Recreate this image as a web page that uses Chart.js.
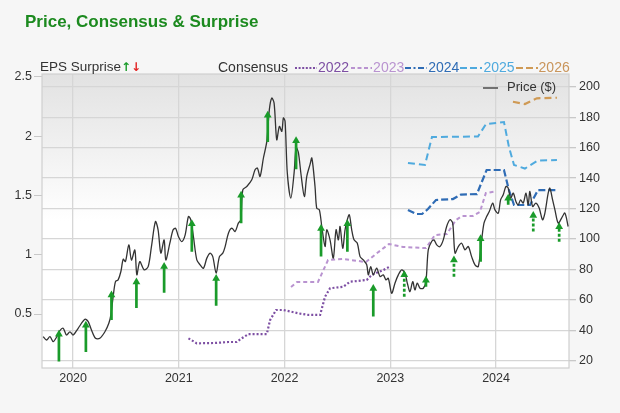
<!DOCTYPE html>
<html>
<head>
<meta charset="utf-8">
<script src="https://cdn.jsdelivr.net/npm/chart.js@4"></script>
<style>
  html, body { margin:0; padding:0; background:#f6f6f6; }
  #wrap { position:relative; width:620px; height:413px; overflow:hidden; font-family:"Liberation Sans", Arial, sans-serif; }
  #c { position:absolute; left:0; top:0; }
  .ov { position:absolute; white-space:nowrap; font-size:13px; color:#333; line-height:14px; }
  #title { left:25px; top:12px; font-size:17px; font-weight:bold; color:#1c8a1f; line-height:20px; }
  .lg { display:inline-block; vertical-align:middle; }
</style>
</head>
<body>
<div id="wrap">
  <canvas id="c" width="620" height="413"></canvas>
  <div id="title" class="ov">Price, Consensus &amp; Surprise</div>
  <div class="ov" style="left:40px; top:60px; font-size:13.5px;">EPS Surprise<span style="color:#1a9b2a;font-weight:bold;font-family:'DejaVu Sans';font-size:12px;">↑</span><span style="color:#e32323;font-weight:bold;font-family:'DejaVu Sans';font-size:12px;">↓</span></div>
  <div class="ov" style="left:218px; top:60px; font-size:14px;">Consensus
    <svg class="lg" width="24" height="6" style="margin-left:2px"><line x1="1" y1="3" x2="23" y2="3" stroke="#7d4fa3" stroke-width="2" stroke-dasharray="2,1.6"/></svg><span style="color:#7d4fa3">2022</span><svg class="lg" width="24" height="6"><line x1="2" y1="3" x2="23" y2="3" stroke="#b993d0" stroke-width="2" stroke-dasharray="4,2.5"/></svg><span style="color:#b993d0">2023</span><svg class="lg" width="24" height="6"><line x1="1" y1="3" x2="23" y2="3" stroke="#2f6cb5" stroke-width="2.2" stroke-dasharray="6,2.5,2,2.5"/></svg><span style="color:#2f6cb5">2024</span><svg class="lg" width="24" height="6"><line x1="1" y1="3" x2="23" y2="3" stroke="#4faade" stroke-width="2" stroke-dasharray="7,3"/></svg><span style="color:#4faade">2025</span><svg class="lg" width="24" height="6"><line x1="1" y1="3" x2="23" y2="3" stroke="#cf9a55" stroke-width="2.2" stroke-dasharray="7,3"/></svg><span style="color:#c9955b">2026</span>
  </div>
  <div class="ov" style="left:483px; top:80px; font-size:13px;"><svg class="lg" width="16" height="6"><line x1="0" y1="3" x2="15" y2="3" stroke="#555" stroke-width="1.6"/></svg><span style="margin-left:8px">Price ($)</span></div>
</div>
<script>
// ---------- DATA ----------
const xTickYears = [2020, 2021, 2022, 2023, 2024];
const epsTicks = [0.5, 1, 1.5, 2, 2.5];
const priceTicks = [20, 40, 60, 80, 100, 120, 140, 160, 180, 200];

const priceDates = [2019.717,2019.749,2019.781,2019.812,2019.843,2019.875,2019.906,2019.938,2019.970,2020.001,
 2020.048,2020.112,2020.143,2020.174,2020.212,2020.253,2020.301,2020.338,2020.357,2020.379,
 2020.401,2020.426,2020.452,2020.474,2020.495,2020.527,2020.552,2020.584,2020.603,2020.631,
 2020.672,2020.710,2020.741,2020.779,2020.804,2020.830,2020.861,2020.877,2020.915,2020.946,
 2020.970,2020.996,2021.028,2021.060,2021.091,2021.113,2021.138,2021.170,2021.201,2021.233,
 2021.265,2021.296,2021.321,2021.353,2021.384,2021.416,2021.438,2021.469,2021.501,2021.532,
 2021.563,2021.586,2021.605,2021.643,2021.690,2021.721,2021.743,2021.768,2021.800,2021.832,
 2021.856,2021.879,2021.901,2021.926,2021.951,2021.974,2021.989,2022.005,2022.026,2022.059,
 2022.090,2022.109,2022.130,2022.156,2022.187,2022.210,2022.241,2022.258,2022.288,2022.304,
 2022.329,2022.352,2022.383,2022.399,2022.430,2022.461,2022.487,2022.509,2022.525,2022.550,
 2022.572,2022.588,2022.612,2022.635,2022.657,2022.688,2022.714,2022.745,2022.777,2022.792,
 2022.815,2022.839,2022.871,2022.903,2022.934,2022.959,2022.981,2023.013,2023.044,2023.076,
 2023.108,2023.139,2023.161,2023.186,2023.212,2023.233,2023.255,2023.281,2023.312,2023.337,
 2023.359,2023.391,2023.413,2023.439,2023.470,2023.501,2023.533,2023.564,2023.590,2023.612,
 2023.643,2023.675,2023.706,2023.737,2023.769,2023.801,2023.832,2023.864,2023.886,2023.911,
 2023.936,2023.968,2023.990,2024.021,2024.043,2024.068,2024.094,2024.115,2024.138,2024.163,
 2024.188,2024.210,2024.232,2024.257,2024.283,2024.304,2024.320,2024.346,2024.377,2024.408,
 2024.440,2024.462,2024.493,2024.509,2024.535,2024.557,2024.588,2024.620,2024.651,2024.682];
const priceValues = [35.8,33.6,35.8,32.5,35.4,39.7,41.3,36.9,39.0,36.9,
 41.3,47.2,45.7,40.2,34.7,34.7,39.0,44.6,50.0,62.1,
 72.0,73.1,78.6,86.7,85.1,96.1,86.2,92.8,76.4,85.1,
 79.7,81.8,95.0,111.4,106.0,90.7,99.4,86.2,97.2,106.0,
 107.0,101.6,98.3,102.7,114.7,112.6,101.6,86.2,83.0,80.8,
 87.4,90.7,88.4,77.5,88.4,90.7,95.0,103.8,107.1,104.9,
 110.4,112.6,132.3,134.5,138.9,145.5,146.6,141.1,153.2,164.1,
 185.0,192.6,189.3,165.2,174.0,170.7,179.5,177.2,143.3,126.8,
 143.3,160.0,157.0,142.2,127.9,141.1,149.0,153.2,134.5,120.3,
 119.1,108.2,95.0,106.0,99.4,87.4,106.0,99.4,108.2,93.9,
 106.0,111.4,115.9,106.0,99.4,97.2,88.4,86.2,83.0,76.4,
 81.8,76.4,80.8,75.3,76.4,73.1,74.2,64.3,70.9,76.4,
 79.7,77.5,70.9,65.4,72.0,66.5,70.9,67.6,67.6,72.0,
 92.8,98.3,99.4,96.1,95.0,99.4,108.2,112.6,110.4,90.7,
 95.0,97.2,92.8,95.0,88.4,83.0,81.8,99.4,110.4,114.7,
 118.0,123.6,119.1,116.9,125.7,129.0,134.5,133.4,126.8,130.1,
 124.6,122.4,125.7,123.6,130.1,122.4,131.2,121.3,123.6,120.3,
 112.6,117.0,130.1,133.4,125.7,119.1,110.4,113.7,117.0,108.2];

const surpriseDates = [2019.866,2020.121,2020.363,2020.599,2020.861,2021.123,2021.353,2021.589,2021.841,2022.109,
 2022.345,2022.594,2022.839,2023.132,2023.337,2023.602,2023.854,2024.115,2024.352,2024.597];
const surpriseFrom = [0.10,0.18,0.45,0.55,0.68,1.025,0.57,1.265,1.95,1.72,
 0.985,1.025,0.48,0.645,0.73,0.815,0.94,1.42,1.195,1.11];
const surpriseTo = [0.33,0.405,0.66,0.77,0.90,1.26,0.80,1.50,2.175,1.96,
 1.22,1.26,0.715,0.83,0.785,0.955,1.135,1.475,1.33,1.235];
const surpriseEstimated = [false,false,false,false,false,false,false,false,false,false,
 false,false,false,true,false,true,false,false,true,true];

const cons2022Dates = [2021.091,2021.170,2021.343,2021.466,2021.548,2021.595,2021.658,2021.832,2021.863,2021.920,2021.989,2022.130,2022.225,2022.336,2022.383,2022.430,2022.556,2022.619,2022.777,2022.824,2022.934,2022.997];
const cons2022Values = [0.295,0.253,0.256,0.264,0.264,0.295,0.331,0.331,0.449,0.534,0.534,0.506,0.492,0.492,0.646,0.717,0.730,0.772,0.787,0.829,0.871,0.900];
const cons2023Dates = [2022.061,2022.118,2022.316,2022.411,2022.553,2022.770,2022.864,2022.987,2023.120,2023.337,2023.422,2023.535,2023.620,2023.677,2023.781,2023.847,2023.904,2023.989];
const cons2023Values = [0.728,0.770,0.770,0.955,0.964,0.938,1.006,1.090,1.065,1.056,1.166,1.174,1.292,1.326,1.326,1.360,1.520,1.532];
const cons2024Dates = [2023.167,2023.243,2023.300,2023.356,2023.432,2023.592,2023.668,2023.819,2023.911,2024.075,2024.122,2024.170,2024.321,2024.397,2024.576];
const cons2024Values = [1.377,1.343,1.343,1.385,1.461,1.469,1.507,1.511,1.714,1.714,1.545,1.419,1.419,1.545,1.545];
const cons2025Dates = [2023.167,2023.328,2023.394,2023.829,2023.905,2024.075,2024.122,2024.170,2024.273,2024.396,2024.576];
const cons2025Values = [1.773,1.756,1.992,1.996,2.101,2.118,1.908,1.756,1.726,1.794,1.798];
const cons2026Dates = [2024.160,2024.273,2024.386,2024.576];
const cons2026Values = [2.289,2.270,2.318,2.323];

// ---------- BUILD ----------
const pts = (xs, ys) => xs.map((x, i) => ({ x, y: ys[i] }));
function shafts(estimated) {
  const out = [];
  surpriseDates.forEach((d, i) => {
    if (surpriseEstimated[i] !== estimated) return;
    out.push({ x: d, y: surpriseFrom[i] }, { x: d, y: surpriseTo[i] }, { x: d, y: null });
  });
  return out;
}
const GREEN = '#1a9b2a';

const bgPlugin = {
  id: 'plotBg',
  beforeDraw(chart) {
    const { ctx, chartArea: a } = chart;
    const g = ctx.createLinearGradient(0, a.top, 0, a.bottom);
    g.addColorStop(0, '#e2e2e2');
    g.addColorStop(0.5, '#ffffff');
    g.addColorStop(1, '#ffffff');
    ctx.save();
    ctx.fillStyle = g;
    ctx.fillRect(a.left, a.top, a.right - a.left, a.bottom - a.top);
    ctx.restore();
  },
  beforeDatasetsDraw(chart) {
    const { ctx, chartArea: a } = chart;
    ctx.save();
    ctx.strokeStyle = '#cfcfcf';
    ctx.lineWidth = 1.2;
    ctx.strokeRect(a.left, a.top, a.right - a.left, a.bottom - a.top);
    ctx.restore();
  }
};

const consLine = (data, color, dash, w) => ({
  type: 'line', data, yAxisID: 'yEps', borderColor: color, borderWidth: w,
  borderDash: dash, pointRadius: 0, tension: 0, fill: false
});

new Chart(document.getElementById('c'), {
  type: 'line',
  data: {
    datasets: [
      { data: pts(surpriseDates, surpriseTo), yAxisID: 'yEps', showLine: false, pointStyle: 'triangle',
        pointRadius: 4.5, pointBackgroundColor: GREEN, pointBorderWidth: 0, order: 0 },
      { data: shafts(false), yAxisID: 'yEps', borderColor: GREEN, borderWidth: 2.7, pointRadius: 0,
        spanGaps: false, tension: 0, order: 1 },
      { data: shafts(true), yAxisID: 'yEps', borderColor: GREEN, borderWidth: 2.7, borderDash: [3, 2],
        pointRadius: 0, spanGaps: false, tension: 0, order: 1 },
      { data: pts(priceDates, priceValues), yAxisID: 'yPrice', borderColor: '#333333', borderWidth: 1.3,
        pointRadius: 0, tension: 0.3, order: 2 },
      Object.assign(consLine(pts(cons2022Dates, cons2022Values), '#7d4fa3', [2, 2], 2.2), { order: 3 }),
      Object.assign(consLine(pts(cons2023Dates, cons2023Values), '#b993d0', [4, 3], 2), { order: 3 }),
      Object.assign(consLine(pts(cons2024Dates, cons2024Values), '#2f6cb5', [7, 3], 2.2), { order: 3 }),
      Object.assign(consLine(pts(cons2025Dates, cons2025Values), '#4faade', [7, 4], 2), { order: 3 }),
      Object.assign(consLine(pts(cons2026Dates, cons2026Values), '#cf9a55', [7, 4], 2.2), { order: 3 })
    ]
  },
  options: {
    responsive: false,
    animation: false,
    layout: { padding: { top: 74, left: 0, right: 0, bottom: 0 } },
    plugins: { legend: { display: false }, tooltip: { enabled: false } },
    scales: {
      x: {
        type: 'linear', min: 2019.706, max: 2024.69,
        afterBuildTicks: s => { s.ticks = xTickYears.map(v => ({ value: v })); },
        afterFit: s => { s.height = 45; },
        grid: { color: '#d6d6d6', lineWidth: 1.3, drawTicks: false },
        border: { display: false },
        ticks: { callback: v => String(v), color: '#333', padding: 3, maxRotation: 0,
          font: { family: 'Liberation Sans', size: 12.5 } }
      },
      yEps: {
        type: 'linear', position: 'left', min: 0.045, max: 2.523,
        afterBuildTicks: s => { s.ticks = epsTicks.map(v => ({ value: v })); },
        afterFit: s => { s.width = 42; },
        grid: { drawOnChartArea: false, color: '#c8c8c8', tickLength: 8 },
        border: { display: false },
        ticks: { callback: v => String(v), color: '#333', padding: 2,
          font: { family: 'Liberation Sans', size: 12.5 } }
      },
      yPrice: {
        type: 'linear', position: 'right', min: 15.2, max: 208.4,
        afterBuildTicks: s => { s.ticks = priceTicks.map(v => ({ value: v })); },
        afterFit: s => { s.width = 51; },
        grid: { color: '#d6d6d6', lineWidth: 1.3, tickLength: 7, tickColor: '#c8c8c8' },
        border: { display: false },
        ticks: { callback: v => String(v), color: '#333', padding: 3,
          font: { family: 'Liberation Sans', size: 12.5 } }
      }
    }
  },
  plugins: [bgPlugin]
});
</script>
</body>
</html>
